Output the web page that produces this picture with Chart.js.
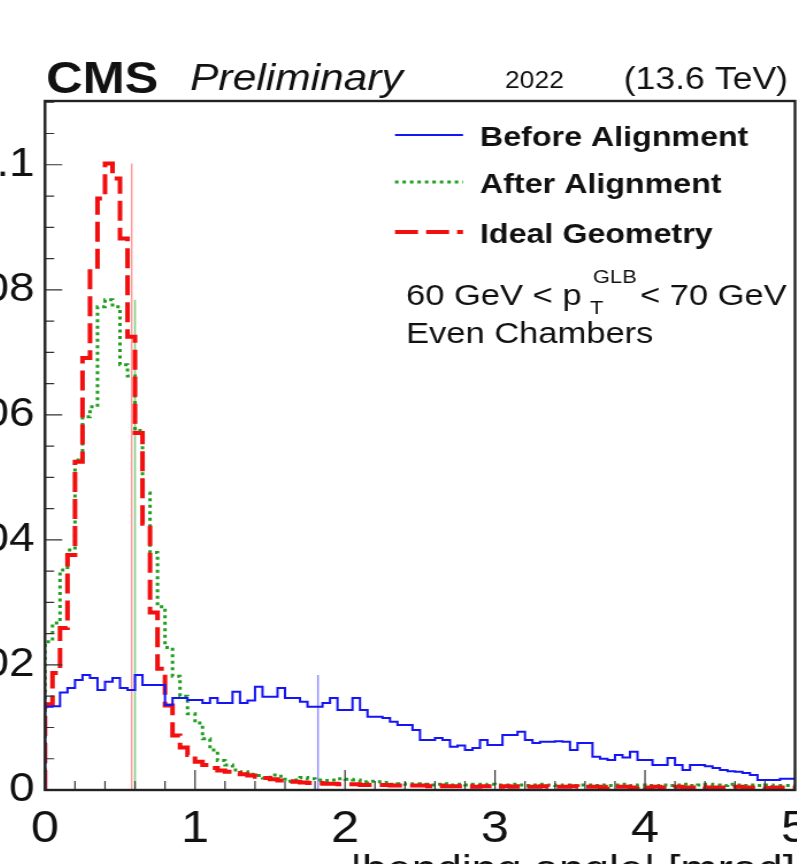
<!DOCTYPE html>
<html>
<head>
<meta charset="utf-8">
<script src="https://cdn.jsdelivr.net/npm/chart.js@4"></script>
<style>
  html, body { margin: 0; padding: 0; background: #fff; overflow: hidden; width: 797px; height: 864px; }
  #wrap { position: absolute; left: -60px; top: 0; transform: scaleX(1.15); transform-origin: 0 0; }
</style>
</head>
<body>
<div id="wrap"><canvas id="c" width="791" height="900"></canvas></div>
<script>
// histogram contents, bins of 0.05 mrad from 0 to 5
var binWidth = 0.05;

var beforeAlignment = [
  0.0160, 0.0133, 0.0134, 0.0156, 0.0163, 0.0176, 0.0184, 0.0179, 0.0160, 0.0173,
  0.0179, 0.0163, 0.0160, 0.0184, 0.0168, 0.0168, 0.0168, 0.0136, 0.0147, 0.0147,
  0.0144, 0.0144, 0.0139, 0.0147, 0.0139, 0.0139, 0.0157, 0.0139, 0.0143, 0.0165,
  0.0149, 0.0149, 0.0163, 0.0147, 0.0147, 0.0141, 0.0133, 0.0133, 0.0139, 0.0147,
  0.0128, 0.0128, 0.0147, 0.0128, 0.0117, 0.0117, 0.0115, 0.0109, 0.0104, 0.0104,
  0.0096, 0.0080, 0.0080, 0.0083, 0.0080, 0.0069, 0.0071, 0.0064, 0.0067, 0.0080,
  0.0072, 0.0072, 0.0088, 0.0088, 0.0093, 0.0080, 0.0075, 0.0077, 0.0077, 0.0078,
  0.0077, 0.0064, 0.0075, 0.0075, 0.0053, 0.0050, 0.0048, 0.0056, 0.0052, 0.0061,
  0.0048, 0.0048, 0.0040, 0.0040, 0.0051, 0.0040, 0.0032, 0.0040, 0.0040, 0.0038,
  0.0035, 0.0032, 0.0030, 0.0029, 0.0027, 0.0024, 0.0016, 0.0016, 0.0016, 0.0018
];

var afterAlignment = [
  0.0229, 0.0237, 0.0267, 0.0352, 0.0384, 0.0528, 0.0597, 0.0613, 0.0773, 0.0784,
  0.0773, 0.0680, 0.0662, 0.0575, 0.0475, 0.0380, 0.0293, 0.0228, 0.0182, 0.0150,
  0.0122, 0.0107, 0.0082, 0.0064, 0.0047, 0.0040, 0.0032, 0.0029, 0.0025, 0.0023,
  0.0019, 0.0024, 0.0022, 0.0014, 0.0016, 0.0020, 0.0018, 0.0016, 0.0015, 0.0016,
  0.0018, 0.0017, 0.0016, 0.0013, 0.0014, 0.0013, 0.0012, 0.0009, 0.0010, 0.0009,
  0.0010, 0.0009, 0.0008, 0.0009, 0.0010, 0.0008, 0.0009, 0.0008, 0.0009, 0.0008,
  0.0009, 0.0008, 0.0008, 0.0009, 0.0008, 0.0007, 0.0008, 0.0009, 0.0008, 0.0007,
  0.0008, 0.0007, 0.0008, 0.0008, 0.0007, 0.0008, 0.0007, 0.0008, 0.0009, 0.0007,
  0.0008, 0.0007, 0.0007, 0.0008, 0.0007, 0.0008, 0.0009, 0.0007, 0.0008, 0.0009,
  0.0008, 0.0007, 0.0009, 0.0008, 0.0007, 0.0008, 0.0007, 0.0008, 0.0007, 0.0007
];

var idealGeometry = [
  0.0118, 0.0137, 0.0187, 0.0259, 0.0376, 0.0525, 0.0691, 0.0837, 0.0946, 0.1002,
  0.0978, 0.0882, 0.0725, 0.0571, 0.0426, 0.0284, 0.0194, 0.0135, 0.0087, 0.0068,
  0.0056, 0.0045, 0.0040, 0.0035, 0.0031, 0.0029, 0.0027, 0.0025, 0.0023, 0.0021,
  0.0019, 0.0017, 0.0015, 0.0014, 0.0013, 0.0012, 0.0011, 0.0011, 0.0010, 0.0010,
  0.0009, 0.0009, 0.0009, 0.0008, 0.0008, 0.0008, 0.0008, 0.0007, 0.0007, 0.0007,
  0.0007, 0.0007, 0.0006, 0.0007, 0.0006, 0.0006, 0.0006, 0.0006, 0.0005, 0.0006,
  0.0006, 0.0005, 0.0006, 0.0005, 0.0006, 0.0005, 0.0005, 0.0006, 0.0005, 0.0005,
  0.0005, 0.0006, 0.0005, 0.0005, 0.0005, 0.0004, 0.0005, 0.0005, 0.0005, 0.0004,
  0.0005, 0.0004, 0.0005, 0.0004, 0.0004, 0.0005, 0.0004, 0.0004, 0.0005, 0.0004,
  0.0004, 0.0004, 0.0004, 0.0005, 0.0004, 0.0004, 0.0004, 0.0003, 0.0004, 0.0004
];

// mean markers (before, after, ideal): position and height
var meanX = [1.82, 0.60, 0.578];
var meanY = [0.0184, 0.0784, 0.1002];

var seriesLabels = ['Before Alignment', 'After Alignment', 'Ideal Geometry'];
var xTicks = [0, 1, 2, 3, 4, 5];
var yTicks = [0, 0.02, 0.04, 0.06, 0.08, 0.1];
var yTickLabels = ['0', '0.02', '0.04', '0.06', '0.08', '0.1'];

// page is drawn on a canvas shifted left and stretched horizontally
var STRETCH = 1.15, SHIFT = 60;
function cx(px) { return (px + SHIFT) / STRETCH; }
var FONT = "'Liberation Sans', Arial, Helvetica, sans-serif";

function histPoints(values) {
  var pts = [{ x: 0, y: 0 }];
  values.forEach(function (v, i) { pts.push({ x: +(i * binWidth).toFixed(2), y: v }); });
  pts.push({ x: values.length * binWidth, y: values[values.length - 1] });
  return pts;
}
function meanLine(i) {
  return [{ x: meanX[i], y: 0 }, { x: meanX[i], y: meanY[i] }];
}

var framePlugin = {
  id: 'rootFrame',
  afterDraw: function (chart) {
    var ctx = chart.ctx, a = chart.chartArea;
    var xs = chart.scales.x, ys = chart.scales.y;
    ctx.save();
    // ticks inside the frame
    ctx.strokeStyle = '#333';
    ctx.lineWidth = 1.2;
    ctx.beginPath();
    for (var i = 0; i <= 25; i++) {
      var px = xs.getPixelForValue(i * 0.2);
      var len = (i % 5 === 0) ? 20 : 9;
      ctx.moveTo(px, a.bottom); ctx.lineTo(px, a.bottom - len);
    }
    for (var j = 0; j <= 22; j++) {
      var py = ys.getPixelForValue(j * 0.005);
      var l2 = (j % 4 === 0) ? 15 : 8;
      ctx.moveTo(a.left, py); ctx.lineTo(a.left + l2, py);
    }
    ctx.stroke();
    // frame
    ctx.strokeStyle = '#222';
    ctx.lineWidth = 2.4;
    ctx.strokeRect(a.left, a.top, a.right - a.left, a.bottom - a.top);

    // header
    ctx.fillStyle = '#111';
    ctx.textBaseline = 'alphabetic';
    ctx.textAlign = 'left';
    ctx.font = 'bold 44px ' + FONT;
    ctx.fillText('CMS', cx(46), 93);
    ctx.font = 'italic 37px ' + FONT;
    ctx.fillText('Preliminary', cx(190), 90);
    ctx.font = '23px ' + FONT;
    ctx.fillText('2022', cx(505), 88);
    ctx.textAlign = 'right';
    ctx.font = '31px ' + FONT;
    ctx.fillText('(13.6 TeV)', cx(788), 89);

    // legend
    var rowY = [135, 182, 232];
    ctx.textAlign = 'left';
    for (var k = 0; k < 3; k++) {
      var ds = chart.data.datasets[k];
      ctx.beginPath();
      ctx.strokeStyle = ds.borderColor;
      ctx.lineWidth = ds.borderWidth;
      ctx.setLineDash(ds.borderDash || []);
      ctx.moveTo(cx(395), rowY[k]);
      ctx.lineTo(cx(463), rowY[k]);
      ctx.stroke();
      ctx.setLineDash([]);
      ctx.font = 'bold 28px ' + FONT;
      ctx.fillText(ds.label, cx(480), rowY[k] + 11);
    }
    ctx.font = '30px ' + FONT;
    ctx.fillText('60 GeV < p', cx(406), 305);
    ctx.fillText('< 70 GeV', cx(640), 305);
    ctx.font = '19px ' + FONT;
    ctx.fillText('GLB', cx(593), 283);
    ctx.fillText('T', cx(590), 314);
    ctx.font = '30px ' + FONT;
    ctx.fillText('Even Chambers', cx(406), 343);
    ctx.restore();
  }
};

new Chart(document.getElementById('c'), {
  type: 'line',
  data: {
    datasets: [
      { label: seriesLabels[0], data: histPoints(beforeAlignment), borderColor: '#1414f5', borderWidth: 2, stepped: 'after', order: 0 },
      { label: seriesLabels[1], data: histPoints(afterAlignment), borderColor: '#1f9e1f', borderWidth: 3, borderDash: [3, 3.5], stepped: 'after', order: 2 },
      { label: seriesLabels[2], data: histPoints(idealGeometry), borderColor: '#f20f0f', borderWidth: 4, borderDash: [20, 7], stepped: 'after', order: 1 },
      { label: '', data: meanLine(0), borderColor: 'rgba(70,70,255,0.6)', borderWidth: 1.5, order: 3 },
      { label: '', data: meanLine(1), borderColor: 'rgba(40,170,40,0.6)', borderWidth: 1.5, order: 3 },
      { label: '', data: meanLine(2), borderColor: 'rgba(255,90,90,0.6)', borderWidth: 1.5, order: 3 }
    ]
  },
  options: {
    responsive: false,
    animation: false,
    events: [],
    elements: { point: { radius: 0 }, line: { tension: 0, borderJoinStyle: 'miter', fill: false } },
    layout: { padding: { left: 0, right: 791 - cx(795), top: 101, bottom: 0 } },
    plugins: { legend: { display: false }, tooltip: { enabled: false }, title: { display: false } },
    scales: {
      x: {
        type: 'linear', min: 0, max: 5,
        afterFit: function (s) { s.height = 110; },
        afterBuildTicks: function (s) { s.ticks = xTicks.map(function (v) { return { value: v }; }); },
        grid: { display: false, drawTicks: false }, border: { display: false },
        ticks: { padding: 13, autoSkip: false, maxRotation: 0, color: '#111', font: { family: FONT, size: 44 } },
        title: { display: true, text: '|bending angle| [mrad]', align: 'end', color: '#111',
                 font: { family: FONT, size: 39 }, padding: { top: 0, bottom: 5 } }
      },
      y: {
        type: 'linear', min: 0, max: 0.1102,
        afterFit: function (s) { s.width = cx(45); },
        afterBuildTicks: function (s) { s.ticks = yTicks.map(function (v) { return { value: v }; }); },
        grid: { display: false, drawTicks: false }, border: { display: false },
        ticks: {
          padding: 9, autoSkip: false, color: '#111', font: { family: FONT, size: 40 },
          callback: function (v, i) { return yTickLabels[i]; }
        }
      }
    }
  },
  plugins: [framePlugin]
});
</script>
</body>
</html>
